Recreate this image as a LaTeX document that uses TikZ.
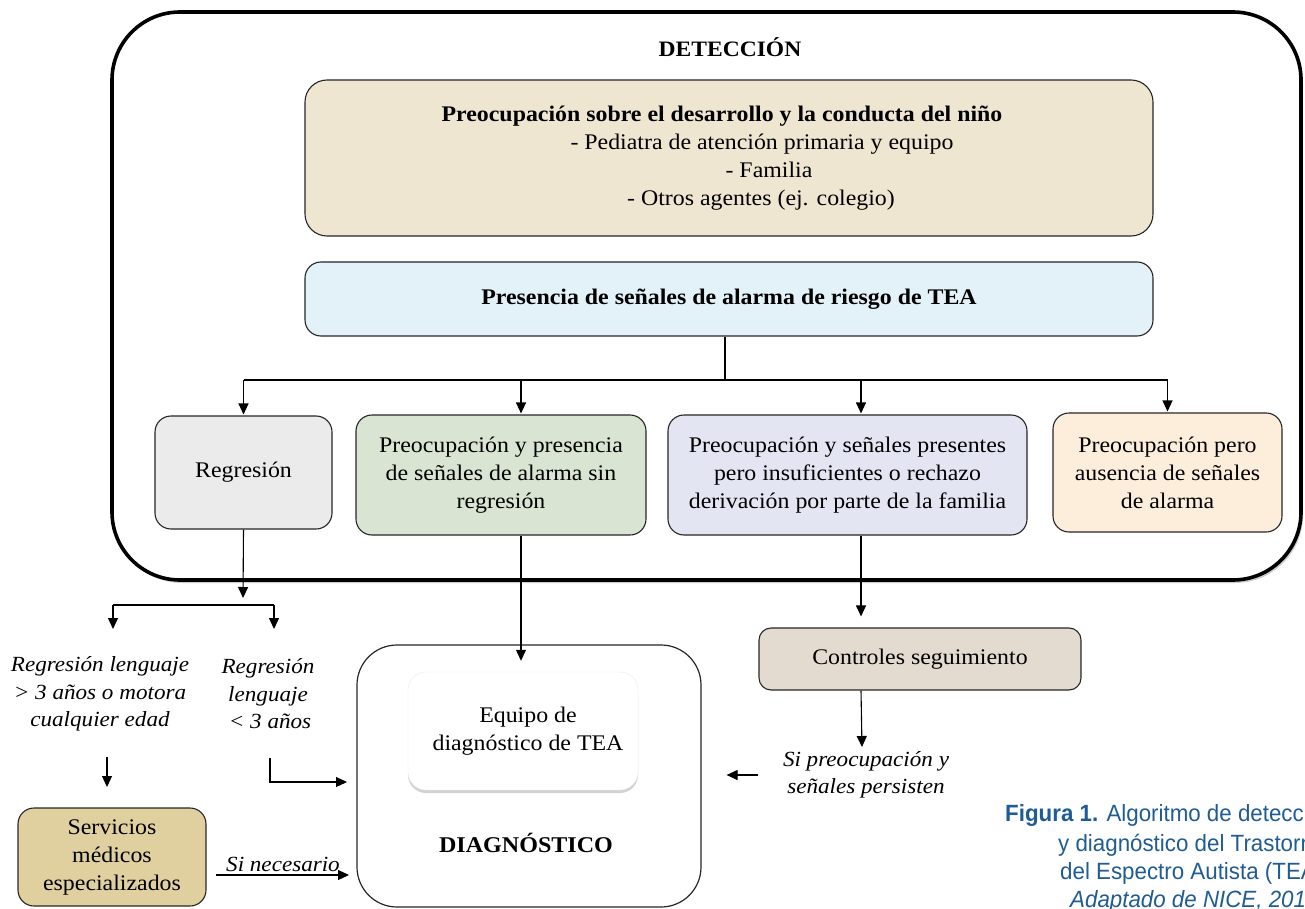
\documentclass[tikz,border=0pt]{standalone}
\usepackage{fontspec}
\setmainfont{Liberation Serif}[FakeStretch=1.07]
\newfontfamily\capfont{Liberation Sans}[FakeStretch=0.95]
\usetikzlibrary{shadows,calc,arrows.meta}
\definecolor{cPre}{HTML}{EEE6D1}
\definecolor{cPres}{HTML}{E2F2F8}
\definecolor{cReg}{HTML}{EBEBEB}
\definecolor{cGrn}{HTML}{D9E4D2}
\definecolor{cLav}{HTML}{E3E5F2}
\definecolor{cOra}{HTML}{FDEDDB}
\definecolor{cServ}{HTML}{E0D0A0}
\definecolor{cCtrl}{HTML}{E3DBCF}
\definecolor{cCap}{HTML}{1F5C94}
\tikzset{
  txt/.style={font=\fontsize{22.3}{28}\selectfont, align=center, inner sep=2pt},
  itx/.style={font=\fontsize{21.6}{27.5}\selectfont\itshape, align=center, inner sep=2pt},
  box/.style={draw=black!85, line width=1.1pt, rounded corners=16pt, txt},
  line/.style={line width=1.1pt},
  arr/.style={line width=1.1pt, -{Triangle[length=11pt,width=10pt]}, shorten >=1pt},
  capt/.style={font=\capfont\fontsize{23.5}{29}\selectfont, text=cCap, anchor=base west, inner sep=0pt},
}
\begin{document}
\begin{tikzpicture}[x=1pt,y=-1pt]
\useasboundingbox (0,0) rectangle (1305,909);
\clip (0,0) rectangle (1305,909);

% outer detection frame
\node[draw=black, line width=3.6pt, fill=white, rounded corners=68pt,
      minimum width=1189pt, minimum height=568pt,
      drop shadow={shadow xshift=2pt, shadow yshift=-3pt, opacity=0.4}] (det) at (706.5,296) {};
\node[txt, font=\fontsize{22}{28}\selectfont\bfseries] (dett) at (730,47) {DETECCIÓN};

\node[box, fill=cPre, rounded corners=22pt, minimum width=848pt, minimum height=156pt] (pre) at (729,158)
 {\textbf{Preocupación sobre el desarrollo y la conducta del niño}\hspace*{14pt}\\
  \hspace*{66pt}- Pediatra de atención primaria y equipo\\
  \hspace*{80pt}- Familia\\
  \hspace*{64pt}- Otros agentes (ej. colegio)};
\node[box, fill=cPres, minimum width=848pt, minimum height=74pt] (pres) at (729,299)
 {\textbf{Presencia de señales de alarma de riesgo de TEA}};

\node[box, fill=cReg, minimum width=177pt, minimum height=113pt] (reg) at (243.5,472.5) {Regresión};
\node[box, fill=cGrn, minimum width=290pt, minimum height=120pt] (grn) at (501,475)
 {Preocupación y presencia\\de señales de alarma sin\\regresión};
\node[box, fill=cLav, minimum width=359pt, minimum height=120pt] (lav) at (847.5,475)
 {Preocupación y señales presentes\\pero insuficientes o rechazo\\derivación por parte de la familia};
\node[box, fill=cOra, minimum width=229pt, minimum height=119pt] (ora) at (1167.5,472.5)
 {Preocupación pero\\ausencia de señales\\de alarma};

% branching
\coordinate (j) at (725,380);
\draw[line] ([xshift=-4pt]pres.south) -- (j);
\draw[line] (reg.north |- j) -- (ora.north |- j);
\draw[arr] (reg.north |- j) -- (reg.north);
\draw[arr] ([xshift=20pt]grn.north |- j) -- ([xshift=20pt]grn.north);
\draw[arr] ([xshift=13.5pt]lav.north |- j) -- ([xshift=13.5pt]lav.north);
\draw[arr] (ora.north |- j) -- (ora.north);

% regression sub-branches
\coordinate (rr) at (243,599);
\coordinate (sl) at (113,605);
\coordinate (sr) at (274,605);
\draw[arr] (reg.south) -- (rr);
\draw[line] (sl) -- (sr);
\draw[arr] (sl) -- ++(0,25);
\draw[arr] (sr) -- ++(0,25);

\node[itx] (rl1) at (100,694) {Regresión lenguaje\\> 3 años o motora\\cualquier edad};
\node[itx] (rl2) at (268,694) {Regresión\\lenguaje\\\hspace*{4pt}< 3 años};

\node[box, fill=cServ, rounded corners=16pt, minimum width=188pt, minimum height=98pt] (serv) at (112,857)
 {Servicios\\médicos\\especializados};

% diagnosis
\node[draw=black!85, line width=1.2pt, fill=white, rounded corners=40pt,
      minimum width=344pt, minimum height=262pt] (diag) at (529,776) {};
\node[txt, fill=white, draw=black!8, rounded corners=18pt, minimum width=230pt, minimum height=118pt,
      drop shadow={shadow xshift=0pt, shadow yshift=-3pt, opacity=0.35}] (equipo) at (523,731)
 {\hspace*{10pt}Equipo de\\\hspace*{10pt}diagnóstico de TEA};
\node[txt, font=\fontsize{22.5}{28}\selectfont\bfseries] (diagt) at (526,843) {DIAGNÓSTICO};

\node[box, fill=cCtrl, rounded corners=12pt, minimum width=322pt, minimum height=62pt] (ctrl) at (920,659)
 {Controles seguimiento};
\node[itx] (pers) at (866,775) {Si preocupación y\\señales persisten};

% connectors to diagnosis and follow-up
\coordinate (a1) at (107,757);
\draw[arr] (a1) -- ++(0,31);
\coordinate (a2) at (270,758);
\draw[arr] (a2) |- ++(78,24);
\coordinate (sn) at (216,875);
\draw[arr] (sn) -- node[itx, above, pos=0.5, yshift=1pt] (sntxt) {Si necesario} ++(134,0);
\draw[arr] ([xshift=20pt]grn.south) -- ([xshift=-2pt,yshift=10pt]equipo.north);
\draw[arr, shorten >=11pt] ([xshift=13.5pt]lav.south) -- ([xshift=13.5pt]lav.south |- ctrl.north);
\coordinate (pt) at (862,748);
\draw[arr] ([xshift=-59pt]ctrl.south) -- (pt);
\draw[arr] ([xshift=-23pt]pers.west) -- ([xshift=24pt]diag.east |- pers.west);

% caption (cut by the picture edge)
\node[capt] (c1) at (1005,821) {\textbf{Figura 1.} Algoritmo de detecció};
\node[capt] (c2) at (1058,851) {y diagnóstico del Trastorn};
\node[capt] (c3) at (1060,879) {del Espectro Autista (TEA};
\node[capt] (c4) at (1070,907) {\itshape Adaptado de NICE, 201};
\end{tikzpicture}
\end{document}
